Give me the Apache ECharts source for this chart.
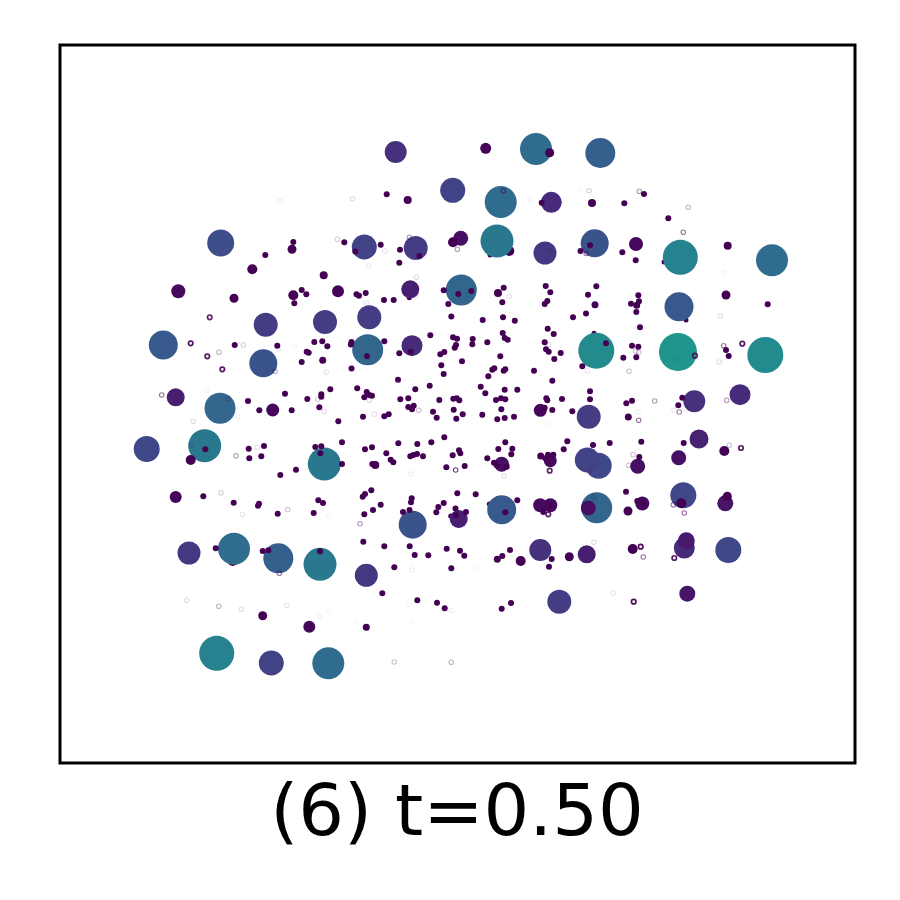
<!DOCTYPE html>
<html><head><meta charset="utf-8">
<style>html,body{margin:0;padding:0;background:#fff}#c{width:900px;height:900px}</style>
<script src="https://cdn.jsdelivr.net/npm/echarts@6/dist/echarts.min.js"></script>
</head><body><div id="c"></div>
<script>
const titleText = "(6) t=0.50";
// [x, y, diameter], drawn in this order
const discs = [
[678,352,38],[596.3,350.7,36],[765.3,355,36],[680.3,257.3,35],[216.7,653.3,35],[324.3,464,33],[497,241,33],[320,564.3,33],[204.7,445.7,33],
[772,260.3,32],[536,149,32],[500.7,202,32],[234,548.7,32],[328.3,663.3,32],[461.3,290,31],[367.7,349.7,31],[220,408.3,31],[596.7,507.7,31],
[600.3,153,30],[278.3,558.3,30],[163.3,345,29],[679,306.7,29],[501.7,509.7,29],[412.7,524.7,28],[263.3,363.3,28],[594.7,243.3,28],[220.7,243,27],
[683.3,495.3,26],[146.7,449,26],[728.3,550,26],[598.7,465.7,26],[452.7,190.3,25],[364.3,247,25],[587.3,460,25],[271.3,663,25],
[415.7,248,24],[369.3,317.3,24],[265.7,324.7,24],[325,322,24],[559.3,601.7,24],[588.7,416.7,24],[545,253,23],[189,553,23],[366.3,575.3,23],
[395.7,152,22],[694.3,401.3,22],[540.3,550,22],[412,345.7,21],[551.3,202.3,21],[740,394.7,21],[684.3,548,21],[699,439,19],
[410.3,289.3,18],[458.7,519,18],[175.7,397.3,18],[586.7,554.3,18],[686.3,540.7,17],[725.3,503.3,16],[687.3,593.7,16],
[501.7,464.3,15],[637.7,466.3,15],[678.7,457.7,15],[588.3,508,15],[460.7,238.3,15],[178.3,291.3,14],[636,244,14],[540.2,505.3,14],[550.3,505.3,14],[642.3,503.5,14],
[272.7,410,13],[550.3,460.7,13],[540.3,410.3,13],[338,291.3,12],[309.3,626.7,12],[175.7,497,12],[485.7,148.3,11],
[190.7,460,10],[252.3,269.3,10],[293.3,295.3,10],[453,242.3,10],[681.3,503.3,10],[632.7,549,10],[724.3,451,10],[520.7,561,10],
[549.7,152.7,9],[292,249.3,9],[234,298.3,9],[726,295,9],[727.3,496.3,9],[628,511,9],[569.3,556.7,9],[262.7,615.7,9],
[407.7,200,8],[592,203,8],[498,293,8],[727.7,245.7,8],[323.7,275.3,8],[375.3,465,8],
[322.7,360.3,7],[595,304.7,7],[636.7,305.3,7],[628.3,417,7],[540.7,456,7],[497.3,559.3,7],[366.3,627.3,7],
[367,356.3,6],[308.7,352.7,6],[365.7,293,6],[644,194,6],[541.7,202.7,6],[767.7,304.3,6],[456,515.3,6]
];
// [x, y, diameter] partly hidden under the discs
const hiddenDots = [[509.3,251,10],[232.7,561,10],[490,255,5],[664,262,5],[594,333.3,5],[409.3,297.7,5],[686,320,5],[489.3,504,5],[450.7,516,5]];
// [x, y] of the smallest solid dots
const smallDots = [
[293.3,242],[265.3,255],[344.3,242.3],[355.3,251.5],[301.7,290],[306.3,294.3],[294.3,303.3],[356.5,294.3],[359,295.7],
[386.7,194.3],[380.7,244.7],[400,249.7],[419.3,256],[399.3,262.7],[580.5,251],[590,245.3],[384,300],[393.7,300],
[443.7,290.3],[458.3,294],[471.3,291],[448.3,304],[503.7,287.7],[502.3,302.3],[545.7,286],[550.3,292.3],[547.3,301],[544.7,304],[588,294.7],
[451.3,316.5],[482.7,320],[503,317.2],[514.8,320.7],[573,317.2],[586,313.5],[624.3,203.3],[668.3,218.3],[622.3,252.3],[635.7,260.3],
[596.3,286.3],[638.3,295.3],[639,301.3],[631,303.7],[636.3,312],[640,327.3],[606,343.3],[632,345.7],[638.3,346.7],[623.3,357.7],[636.3,357.3],[582.3,366.3],
[234.7,345],[277.3,345.7],[314.3,342],[322.3,341.3],[327.3,346.3],[306.7,351.7],[301.7,362],[351.5,342],[350.8,344.5],[351.5,368.5],
[248,401],[259.3,410.3],[285,393.7],[291.7,410.3],[307.3,399],[321.3,394.3],[321.3,396.7],[330.3,389.3],[319.3,407.3],[357.2,388.3],[338.3,421.3],
[205.3,449.3],[248.7,448.7],[264,446],[249.3,458.3],[261.3,456.3],[280.3,475],[296,469.7],[315.3,447],[321.3,446.3],[320.3,453.3],[342,442.3],[342,464],
[203.3,496.3],[233.7,502.7],[259,503.7],[258,505.7],[318.3,500.3],[323,503],
[547.7,328.7],[553.7,334],[430.3,335.3],[384.3,341.3],[410.7,351.7],[399.3,353.3],[453,337.3],[457,338.7],[472.7,339],[472.3,344.3],[487.3,342.3],[456,345],[454.7,347.7],
[444.3,352],[440.3,354.3],[441.3,365.3],[462,361.3],[443.7,374],[502.7,333],[504.7,338],[507.7,339.7],[500.3,356.3],[544.7,342.3],[546,349.3],[548.7,351.7],[560.7,353],[554.3,359],
[494.3,368.3],[492.3,369.7],[505.3,369.3],[503.7,370.7],[488.3,376.3],[534,370.7],[552.3,380.7],[398,379.7],[366.7,392],[369.3,395],[372,395.7],[364.3,397.3],
[415.3,389.3],[429.7,385.7],[400.3,399.3],[408.3,398.3],[439.3,400],[453.3,398.7],[456.7,398.3],[459.3,400.3],[480.7,386.7],[485.3,393.3],[504.7,389.7],[517.3,389.7],[496,400],[501,398.3],[505.3,399.3],
[501.3,409.3],[408.3,407],[413.7,405.7],[412,409.3],[433,411.7],[453.7,409.7],[462.7,414.3],[436.7,417.7],[456.3,418.7],[363,416.7],[384.3,416.3],[388.7,414.3],[482.3,414.7],[497.3,419.3],[504.7,418],[514,416.7],
[544.7,407.7],[552.3,410],[572.3,411.3],[546.3,398.3],[547.3,400.3],[562,399],[590,391.3],[590,399.3],[626.3,403.3],[632,400.7],[682.3,397.7],[678.3,405.3],
[444.3,437.3],[398.3,443.3],[417.3,444],[431.3,442.3],[372,447.3],[365,449.3],[386.3,453.3],[390.7,459.7],[393.3,462.3],[410.3,456.3],[413.3,455],[417,454],[423,456.3],[459,450.3],[460.3,453.3],[452.7,455.3],[464.7,466],[446.3,467.3],
[505.3,442.3],[498.3,449],[512.3,448.7],[511.3,454.3],[487.3,458.3],[494,462.7],[496.7,465.3],[506.7,466.7],[372.3,464],[567.3,441.3],[563.7,449.3],[548,454.7],[553.3,454.7],[545.3,458.3],[593,445],[609.7,443],[641.3,441.7],[639.3,457],[683.7,443],
[726,350],[728.7,356],[365,494],[362.7,496.7],[371.3,490.3],[380.7,504.7],[373,510],[411.7,498.3],[411,502.3],[409.5,510],[457.3,493.3],[475.7,494.3],[443.7,503],[438.3,507],[455.5,508.5],[517.3,500.3],[551,505.5],[543.3,512],
[626,491.7],[637.3,501],[642,502.7],[277.7,513.7],[313.7,513],[215.7,548.3],[262.7,551],[268.3,550.3],[320,551.3],[364.3,514.3],[403,512],[436.3,512.3],[466,512],[505.3,512.3],
[363.3,541.7],[384.3,546.3],[409.7,546.3],[414.7,555],[428.3,555.3],[446.7,548.7],[460,550.7],[464.3,555.7],[510,550],[502.3,556],[551.7,559],[549,566.7],[394.3,567.3],[451.3,568.3],
[382.3,593.3],[417.3,600.3],[437,602.7],[444.7,608.3],[511,603],[501.7,608.7]
];
// [x, y, opacity] of the thin hollow rings
const rings = [
[280,201.3,.09],[352.5,198.7,.15],[337.3,239.3,.2],[209.7,317.3,.85],[503.3,190.7,.6],[530.3,199.7,.07],[580,190,.05],[589,190.7,.2],[385,251.3,.11],[368.7,265.7,.09],
[409.3,237.3,.4],[457.3,249.3,.4],[549.3,250.7,.15],[586.2,253.5,.55],[416.3,277.3,.15],[416,295,.09],[366.3,303.3,.11],[509.3,296.3,.11],[639.3,191.3,.4],[688.3,207.3,.3],[683.3,232.3,.55],[724.3,272.3,.06],[720.3,316.3,.15],
[190.7,343.3,.9],[207.3,356.3,.9],[219,352.3,.3],[222.3,369.3,.9],[243.3,345,.2],[278.3,349.3,.09],[295,346,.05],[275,371.3,.35],[326.3,372.3,.11],[161.7,395,.55],[228.3,399,.25],[207,390.7,.05],[193.3,421.3,.15],[238,416.7,.07],
[317.7,399.3,.2],[324,411.3,.15],[191.7,444.7,.2],[236,455.7,.4],[257.3,447.3,.11],[221,492.7,.2],[287.7,509.5,.25],[548.7,344.7,.15],[587.3,370.7,.11],[369.3,400.3,.15],[418.7,410.3,.25],[374.3,414.3,.11],[548.3,424.3,.04],
[455.7,470,.75],[504,475.7,.15],[411.3,474,.09],[549.7,470.7,.85],[635.7,351.3,.25],[638.7,352.3,.25],[629,371.3,.25],[676.3,359.3,.09],[695,355.7,.85],[723.7,345.7,.55],[742.3,343.7,.9],[719.3,362,.15],
[654.7,401,.4],[674,410.3,.11],[679.3,412,.5],[686,409,.09],[726.7,400.3,.4],[638,411.7,.07],[638.7,420.3,.55],[633,454.7,.25],[628.7,465.3,.25],[729.3,445.3,.25],[741,448,.9],[589,471,.25],[593.7,497.3,.25],[673.3,504.7,.55],[684.3,513,.55],
[242.3,514.3,.11],[329.3,515.7,.05],[360,523.7,.4],[279.3,573.3,.55],[186.7,600.3,.15],[218.7,606.3,.3],[241.3,609.3,.15],[286.7,605.3,.11],[319.3,616.3,.07],[328.3,611,.05],[355.3,621.3,.04],
[548.3,514.3,.85],[412.3,570,.09],[475.3,566.7,.04],[451.3,610.3,.09],[409.3,604.3,.04],[412.3,622,.04],[394.3,662,.25],[451.3,662.3,.3],[594,542.3,.15],[640.7,546.7,.95],[643.3,557,.55],[674.3,558,.9],[613.3,593.3,.11],[633.7,601.7,.95]
];
// colour ramp keyed by disc diameter
const rampSizes = [5,10,14,18,21,24,26,29,32,33,35,36,38];
const rampColors = ["#440154","#440154","#46095e","#481f70","#472b7a","#443d84","#3f4889","#38598c","#2f6c8e","#2a788e","#26828e","#238a8d","#1f968b"];
function hex(c){return [1,3,5].map(i=>parseInt(c.substr(i,2),16));}
function colorFor(d){
  for(let i=1;i<rampSizes.length;i++){
    if(d<=rampSizes[i]){
      const t=(d-rampSizes[i-1])/(rampSizes[i]-rampSizes[i-1]);
      const a=hex(rampColors[i-1]),b=hex(rampColors[i]);
      return "rgb("+a.map((v,k)=>Math.round(v+(b[k]-v)*t)).join(",")+")";
    }
  }
  return rampColors[rampColors.length-1];
}
const chart = echarts.init(document.getElementById('c'),null,{renderer:'canvas'});
const axisOff = {axisLine:{show:false},axisTick:{show:false},axisLabel:{show:false},splitLine:{show:false}};
const base = {type:'scatter',silent:true,animation:false,large:false};
chart.setOption({
  animation:false,
  backgroundColor:'#fff',
  title:{text:titleText,left:452,top:775,textAlign:'center',textStyle:{fontFamily:'DejaVu Sans',fontSize:72,fontWeight:'normal',color:'#000'}},
  grid:{left:60,top:45,width:795,height:718,show:true,borderColor:'#000',borderWidth:3,backgroundColor:'#fff'},
  xAxis:Object.assign({type:'value',min:60,max:855},axisOff),
  yAxis:Object.assign({type:'value',min:45,max:763,inverse:true},axisOff),
  series:[
    Object.assign({},base,{z:2,data:hiddenDots,symbolSize:v=>v[2],itemStyle:{color:'#440154',opacity:1}}),
    Object.assign({},base,{z:3,data:discs,symbolSize:v=>v[2],itemStyle:{color:p=>colorFor(p.value[2]),opacity:1}}),
    Object.assign({},base,{z:4,data:smallDots,symbolSize:6,itemStyle:{color:'#440154',opacity:1}}),
    Object.assign({},base,{z:5,data:rings.map(r=>({value:[r[0],r[1]],itemStyle:{opacity:r[2],borderWidth:r[2]>=.8?1.7:1.1}})),symbolSize:4.5,itemStyle:{color:'rgba(255,255,255,0)',borderColor:'#440154'}})
  ]
});
</script></body></html>
